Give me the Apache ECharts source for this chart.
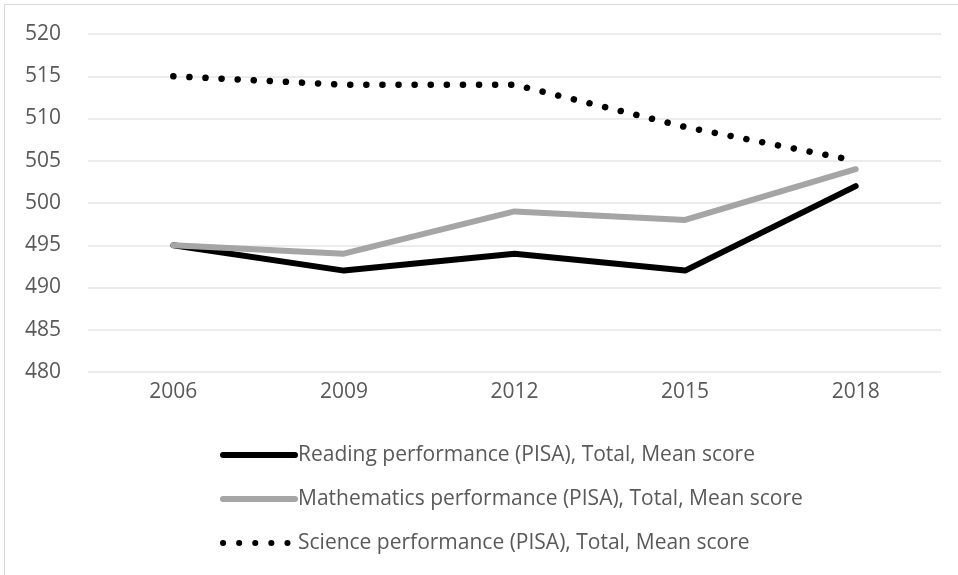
<!DOCTYPE html>
<html>
<head>
<meta charset="utf-8">
<script src="https://cdn.jsdelivr.net/npm/echarts@6/dist/echarts.min.js"></script>
<style>
  html, body { margin: 0; padding: 0; background: #fff; }
  #frame { position: absolute; left: 4px; top: 4px; width: 960px; height: 580px; border-left: 1px solid #d9d9d9; border-top: 1px solid #d9d9d9; }
  #chart { position: absolute; left: 0; top: 0; width: 958px; height: 575px; }
</style>
</head>
<body>
<div id="frame"></div>
<div id="chart"></div>
<script>
  // PISA mean scores
  const years = ['2006', '2009', '2012', '2015', '2018']
  const reading = [495, 492, 494, 492, 502]
  const mathematics = [495, 494, 499, 498, 504]
  const science = [515, 514, 514, 509, 505]

  const textColor = '#595959'
  const font = 'Open Sans'
  const names = [
    'Reading performance (PISA), Total, Mean score',
    'Mathematics performance (PISA), Total, Mean score',
    'Science performance (PISA), Total, Mean score'
  ]

  const chart = echarts.init(document.getElementById('chart'))
  chart.setOption({
    animation: false,
    grid: { left: 88, right: 17, top: 34, bottom: 203 },
    xAxis: {
      type: 'category',
      data: years,
      axisLine: { show: false },
      axisTick: { show: false },
      axisLabel: { color: textColor, fontFamily: font, fontSize: 21, margin: 10 }
    },
    yAxis: {
      type: 'value',
      min: 480,
      max: 520,
      interval: 5,
      axisLine: { show: false },
      axisTick: { show: false },
      splitLine: { lineStyle: { color: '#e6e6e6', width: 1.5 } },
      axisLabel: { color: textColor, fontFamily: font, fontSize: 21, margin: 27 }
    },
    legend: {
      orient: 'vertical',
      left: 215,
      top: 439,
      itemWidth: 72,
      itemHeight: 14,
      itemGap: 22,
      itemStyle: { opacity: 0 },
      lineStyle: { width: 6, cap: 'round' },
      textStyle: { color: textColor, fontFamily: font, fontSize: 21, lineHeight: 22, padding: [0, 0, 0, -2] },
      data: names
    },
    series: [
      {
        name: names[0],
        type: 'line',
        data: reading,
        symbol: 'none',
        itemStyle: { color: '#000000' },
        lineStyle: { color: '#000000', width: 6, cap: 'round', join: 'round' }
      },
      {
        name: names[1],
        type: 'line',
        data: mathematics,
        symbol: 'none',
        itemStyle: { color: '#a5a5a5' },
        lineStyle: { color: '#a5a5a5', width: 6, cap: 'round', join: 'round' }
      },
      {
        name: names[2],
        type: 'line',
        data: science,
        symbol: 'none',
        itemStyle: { color: '#000000' },
        lineStyle: { color: '#000000', width: 6.5, type: [0.1, 16], cap: 'round', join: 'round' }
      }
    ]
  })
</script>
</body>
</html>
